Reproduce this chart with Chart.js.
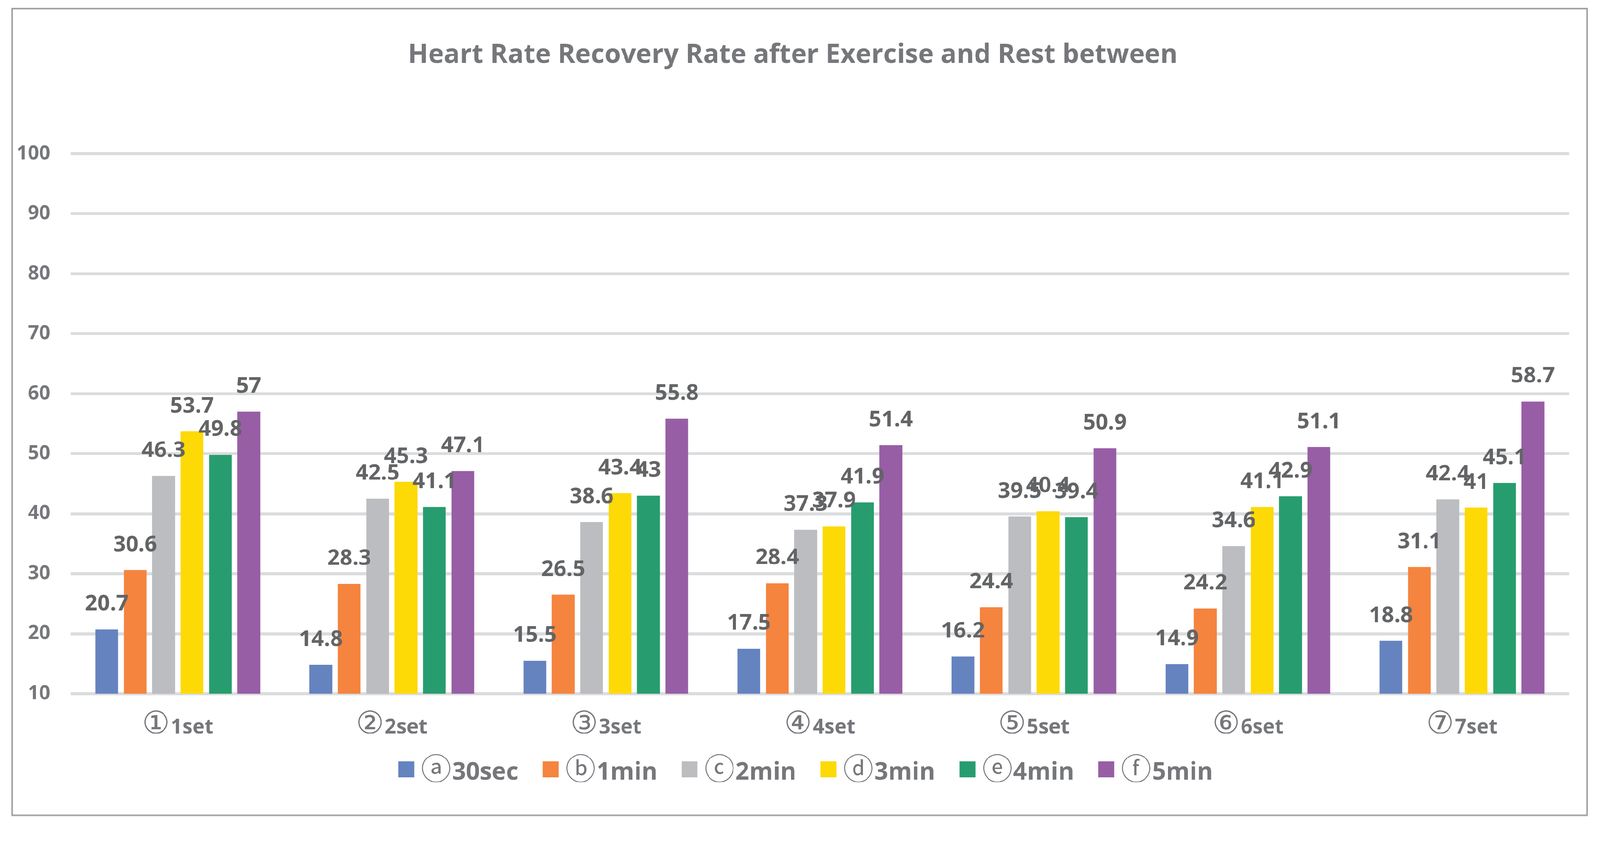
<!DOCTYPE html>
<html>
<head>
<meta charset="utf-8">
<script src="https://cdn.jsdelivr.net/npm/chart.js@4.4.0/dist/chart.umd.min.js"></script>
<style>
  html, body { margin: 0; padding: 0; background: #fff; overflow: hidden; }
  #wrap { position: relative; width: 4228px; height: 2180px; transform-origin: 0 0; }
  #frame {
    position: absolute; left: 30px; top: 21px; width: 4166px; height: 2134px;
    box-sizing: border-box; border: 4px solid #A0A1A5; pointer-events: none;
  }
  #hrr { position: absolute; left: 0; top: 0; }
</style>
</head>
<body>
<div id="wrap">
  <canvas id="hrr" width="4228" height="2180"></canvas>
  <div id="frame"></div>
</div>
<script>
// data
const sets = ['①1set', '②2set', '③3set', '④4set', '⑤5set', '⑥6set', '⑦7set'];
const rests = ['ⓐ30sec', 'ⓑ1min', 'ⓒ2min', 'ⓓ3min', 'ⓔ4min', 'ⓕ5min'];
const sec30 = [20.7, 14.8, 15.5, 17.5, 16.2, 14.9, 18.8];
const min1 = [30.6, 28.3, 26.5, 28.4, 24.4, 24.2, 31.1];
const min2 = [46.3, 42.5, 38.6, 37.3, 39.5, 34.6, 42.4];
const min3 = [53.7, 45.3, 43.4, 37.9, 40.4, 41.1, 41];
const min4 = [49.8, 41.1, 43, 41.9, 39.4, 42.9, 45.1];
const min5 = [57, 47.1, 55.8, 51.4, 50.9, 51.1, 58.7];
const yTicks = [10, 20, 30, 40, 50, 60, 70, 80, 90, 100];

const colors = ['#6583BF', '#F5843F', '#BCBDC0', '#FDD905', '#279D6F', '#975EA6'];
const series = [sec30, min1, min2, min3, min4, min5];

// the window may be narrower than the 4228px page; shrink the whole page to fit
const fit = Math.min(1, window.innerWidth / 4228);
document.getElementById('wrap').style.transform = 'scale(' + fit + ')';

const FONT = "'Open Sans', 'DejaVu Sans', 'Noto Sans CJK KR', sans-serif";
const CIRCLED = "'DejaVu Sans', 'Noto Sans CJK KR', sans-serif";
const GREY = '#76777B';
Chart.defaults.font.family = FONT;
Chart.defaults.color = GREY;

// draws "ⓧrest" with the circled mark a bit larger, like the Korean Excel font
function markedText(ctx, text, left, base, size, markSize) {
  const mark = text.slice(0, 1), rest = text.slice(1);
  ctx.font = markSize + 'px ' + CIRCLED;
  const mw = ctx.measureText(mark).width;
  ctx.fillText(mark, left, base);
  ctx.font = 'bold ' + size + 'px ' + FONT;
  ctx.fillText(rest, left + mw + 2, base);
}
function markedWidth(ctx, text, size, markSize) {
  ctx.font = markSize + 'px ' + CIRCLED;
  const mw = ctx.measureText(text.slice(0, 1)).width;
  ctx.font = 'bold ' + size + 'px ' + FONT;
  return mw + 2 + ctx.measureText(text.slice(1)).width;
}

// value labels above each bar
const barLabels = {
  id: 'barLabels',
  afterDatasetsDraw(chart) {
    const ctx = chart.ctx;
    ctx.save();
    ctx.font = 'bold 58px ' + FONT;
    ctx.fillStyle = '#636466';
    ctx.textAlign = 'center';
    ctx.textBaseline = 'alphabetic';
    chart.data.datasets.forEach((ds, i) => {
      chart.getDatasetMeta(i).data.forEach((bar, j) => {
        ctx.fillText(String(ds.data[j]), bar.x, bar.y - 50);
      });
    });
    ctx.restore();
  }
};

// category names under each group, placed by the x scale
const setLabels = {
  id: 'setLabels',
  afterDraw(chart) {
    const ctx = chart.ctx, xs = chart.scales.x;
    ctx.save();
    ctx.fillStyle = GREY;
    ctx.textAlign = 'left';
    ctx.textBaseline = 'alphabetic';
    chart.data.labels.forEach((lab, i) => {
      const w = markedWidth(ctx, lab, 54, 82);
      markedText(ctx, lab, xs.getPixelForTick(i) - w / 2, chart.chartArea.bottom + 105, 54, 82);
    });
    ctx.restore();
  }
};

// legend row under the axis, Excel spacing (box, short gap, text)
const legendRow = {
  id: 'legendRow',
  afterDraw(chart) {
    const ctx = chart.ctx;
    ctx.save();
    ctx.textAlign = 'left';
    ctx.textBaseline = 'alphabetic';
    const items = chart.data.datasets.map(ds => ({
      text: ds.label, color: ds.backgroundColor, w: markedWidth(ctx, ds.label, 64, 80)
    }));
    const gap = 64;
    const total = items.reduce((s, it) => s + 60 + it.w, 0) + gap * (items.length - 1);
    let x = 2129 - total / 2;
    items.forEach(it => {
      ctx.fillStyle = it.color;
      ctx.fillRect(x, 2011, 42, 42);
      ctx.fillStyle = GREY;
      markedText(ctx, it.text, x + 60, 2059, 64, 80);
      x += 60 + it.w + gap;
    });
    ctx.restore();
  }
};

new Chart(document.getElementById('hrr'), {
  type: 'bar',
  data: {
    labels: sets,
    datasets: rests.map((name, i) => ({
      label: name,
      data: series[i],
      backgroundColor: colors[i],
      borderWidth: 0,
      categoryPercentage: 0.796,
      barPercentage: 0.8
    }))
  },
  plugins: [barLabels, setLabels, legendRow],
  options: {
    responsive: false,
    animation: false,
    devicePixelRatio: 1,
    layout: { padding: { left: 44, right: 82, top: 0, bottom: 348 } },
    plugins: {
      title: {
        display: true,
        text: 'Heart Rate Recovery Rate after Exercise and Rest between',
        color: GREY,
        font: { size: 70, weight: 'bold', lineHeight: 1.2 },
        padding: { top: 104, bottom: 218 }
      },
      legend: { display: false },
      tooltip: { enabled: false }
    },
    scales: {
      x: {
        grid: { display: false, drawTicks: false },
        border: { display: false },
        ticks: { display: false }
      },
      y: {
        min: 10,
        max: 100,
        afterBuildTicks(scale) { scale.ticks = yTicks.map(v => ({ value: v })); },
        grid: { color: '#DBDCDE', lineWidth: 8, drawTicks: false },
        border: { display: false },
        ticks: { color: GREY, padding: 54, font: { size: 52, weight: 'bold' } },
        afterFit(scale) { scale.width = 143; }
      }
    }
  }
});
</script>
</body>
</html>
